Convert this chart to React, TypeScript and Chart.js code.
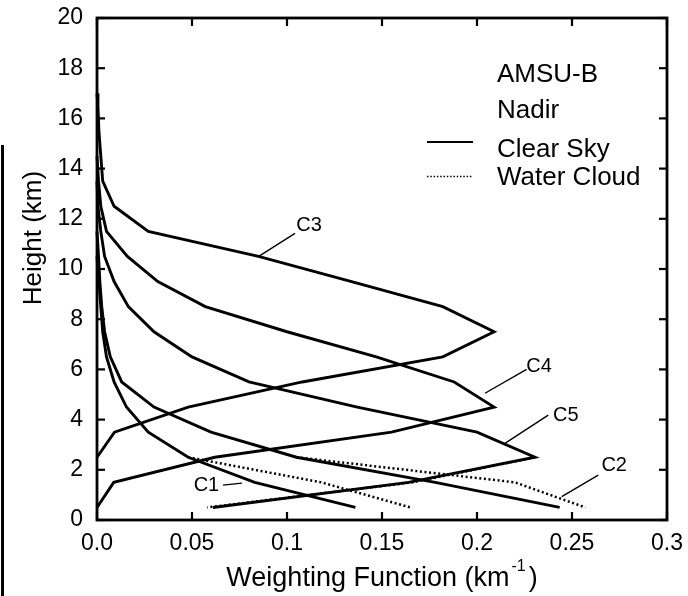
import React, { useEffect, useRef } from "react";
import { Chart, registerables } from "chart.js";

Chart.register(...registerables);

// ---------- axis ----------
const xTickValues = [0, 0.05, 0.1, 0.15, 0.2, 0.25, 0.3];
const xTickLabels = ["0.0", "0.05", "0.1", "0.15", "0.2", "0.25", "0.3"];
const yTickValues = [0, 2, 4, 6, 8, 10, 12, 14, 16, 18, 20];
const yTickLabels = ["0", "2", "4", "6", "8", "10", "12", "14", "16", "18", "20"];

// ---------- clear sky (solid) ----------
const c1ClearHeight = [10.5, 9.5, 8.5, 7.5, 6.5, 5.5, 4.5, 3.5, 2.5, 1.5, 0.5];
const c1ClearWeight = [0, 0.001, 0.002, 0.003, 0.005, 0.009, 0.0155, 0.027, 0.048, 0.083, 0.136];

const c2ClearHeight = [11.5, 10.5, 9.5, 8.5, 7.5, 6.5, 5.5, 4.5, 3.5, 2.5, 1.5, 0.5];
const c2ClearWeight = [0, 0.0008, 0.0015, 0.0025, 0.004, 0.007, 0.013, 0.03, 0.06, 0.105, 0.178, 0.2435];

const c3ClearHeight = [17, 16.5, 15.5, 14.5, 13.5, 12.5, 11.5, 10.5, 9.5, 8.5, 7.5, 6.5, 5.5, 4.5, 3.5, 2.5];
const c3ClearWeight = [0, 0.0005, 0.001, 0.002, 0.003, 0.009, 0.027, 0.085, 0.134, 0.182, 0.209, 0.182, 0.108, 0.048, 0.0092, 0];

const c4ClearHeight = [14.5, 13.5, 12.5, 11.5, 10.5, 9.5, 8.5, 7.5, 6.5, 5.5, 4.5, 3.5, 2.5, 1.5, 0.5];
const c4ClearWeight = [0, 0.0008, 0.002, 0.005, 0.016, 0.032, 0.057, 0.1, 0.147, 0.188, 0.209, 0.155, 0.062, 0.0088, 0];

const c5ClearHeight = [13.5, 12.5, 11.5, 10.5, 9.5, 8.5, 7.5, 6.5, 5.5, 4.5, 3.5, 2.5, 1.5, 0.5];
const c5ClearWeight = [0, 0.0005, 0.002, 0.004, 0.009, 0.0165, 0.03, 0.05, 0.08, 0.137, 0.2, 0.2305, 0.164, 0.061];

// ---------- water cloud (dotted) ----------
const c1CloudHeight = [2.5, 1.5, 0.5];
const c1CloudWeight = [0.048, 0.118, 0.165];

const c2CloudHeight = [2.5, 1.5, 0.5];
const c2CloudWeight = [0.105, 0.22, 0.257];

const c5CloudHeight = [2.5, 1.5, 0.5];
const c5CloudWeight = [0.2305, 0.166, 0.058];

// ---------- channel labels ----------
const channelNames = ["C1", "C2", "C3", "C4", "C5"];
const channelLabelX = [0.0576, 0.2722, 0.1116, 0.2327, 0.2467];
const channelLabelY = [1.39, 2.16, 11.75, 6.13, 4.15];
const pointerStartX = [0.0663, 0.2446, 0.0849, 0.2042, 0.2147];
const pointerStartY = [1.39, 0.93, 10.49, 5.05, 3.05];
const pointerEndX = [0.0763, 0.2638, 0.1042, 0.2261, 0.2375];
const pointerEndY = [1.47, 1.79, 11.42, 6.0, 4.18];

// ---------- legend ----------
const legendHeader = ["AMSU-B", "Nadir"];
const legendItems = ["Clear Sky", "Water Cloud"];

const xTitle = "Weighting Function (km";
const xTitleSup = "-1";
const yTitle = "Height (km)";

const FONT = "'Liberation Sans', Arial, sans-serif";

function series(w: number[], h: number[], dotted: boolean) {
  return {
    data: w.map((x, i) => ({ x, y: h[i] })),
    borderColor: "#000",
    backgroundColor: "#000",
    borderWidth: dotted ? 2.5 : 2.9,
    borderDash: dotted ? [2, 2.6] : [],
    borderJoinStyle: "miter" as const,
    showLine: true,
    pointRadius: 0,
    pointHoverRadius: 0,
    fill: false,
    tension: 0,
    clip: false as const,
  };
}

const decorPlugin = {
  id: "decor",
  afterDatasetsDraw(chart: any) {
    const { ctx, chartArea: a, scales } = chart;
    const xs = scales.x;
    const ys = scales.y;
    ctx.save();
    ctx.strokeStyle = "#000";
    ctx.fillStyle = "#000";

    const seg = (x1: number, y1: number, x2: number, y2: number) => {
      ctx.beginPath();
      ctx.moveTo(x1, y1);
      ctx.lineTo(x2, y2);
      ctx.stroke();
    };

    // frame
    ctx.lineWidth = 2.8;
    ctx.strokeRect(a.left, a.top, a.right - a.left, a.bottom - a.top);

    // inward ticks
    ctx.lineWidth = 2.2;
    const TL = 8;
    xTickValues.forEach((v) => {
      const px = xs.getPixelForValue(v);
      seg(px, a.bottom, px, a.bottom - TL);
      seg(px, a.top, px, a.top + TL);
    });
    yTickValues.forEach((v) => {
      const py = ys.getPixelForValue(v);
      seg(a.left, py, a.left + TL, py);
      seg(a.right, py, a.right - TL, py);
    });

    // channel labels + pointers
    ctx.lineWidth = 1.4;
    ctx.font = `20px ${FONT}`;
    ctx.textAlign = "center";
    ctx.textBaseline = "middle";
    channelNames.forEach((name, i) => {
      seg(
        xs.getPixelForValue(pointerStartX[i]),
        ys.getPixelForValue(pointerStartY[i]),
        xs.getPixelForValue(pointerEndX[i]),
        ys.getPixelForValue(pointerEndY[i])
      );
      ctx.fillText(name, xs.getPixelForValue(channelLabelX[i]), ys.getPixelForValue(channelLabelY[i]));
    });

    // legend
    const lx = a.right - 170;
    ctx.font = `26px ${FONT}`;
    ctx.textAlign = "left";
    ctx.textBaseline = "alphabetic";
    ctx.fillText(legendHeader[0], lx, a.top + 64);
    ctx.fillText(legendHeader[1], lx, a.top + 100);
    ctx.fillText(legendItems[0], lx, a.top + 139);
    ctx.fillText(legendItems[1], lx, a.top + 167);
    ctx.lineWidth = 2.2;
    seg(lx - 70, a.top + 124, lx - 24, a.top + 124);
    ctx.lineWidth = 1.6;
    ctx.setLineDash([1.5, 1.8]);
    seg(lx - 70, a.top + 158.5, lx - 24, a.top + 158.5);
    ctx.setLineDash([]);

    // x title with superscript
    const cx = (a.left + a.right) / 2;
    ctx.font = `27px ${FONT}`;
    const mainW = ctx.measureText(xTitle).width;
    ctx.font = `16px ${FONT}`;
    const supW = ctx.measureText(xTitleSup).width;
    ctx.font = `27px ${FONT}`;
    const closeW = ctx.measureText(")").width;
    const total = mainW + supW + closeW + 5;
    let tx = cx - total / 2;
    const by = 586;
    ctx.fillText(xTitle, tx, by);
    tx += mainW + 2;
    ctx.font = `16px ${FONT}`;
    ctx.fillText(xTitleSup, tx, by - 15);
    tx += supW + 3;
    ctx.font = `27px ${FONT}`;
    ctx.fillText(")", tx, by);

    // y title
    ctx.save();
    ctx.translate(41, 238);
    ctx.rotate(-Math.PI / 2);
    ctx.font = `26px ${FONT}`;
    ctx.textAlign = "center";
    ctx.textBaseline = "alphabetic";
    ctx.fillText(yTitle, 0, 0);
    ctx.restore();

    ctx.restore();
  },
};

export default function App() {
  const ref = useRef<HTMLCanvasElement | null>(null);

  useEffect(() => {
    if (!ref.current) return;
    const chart = new Chart(ref.current, {
      type: "scatter",
      data: {
        datasets: [
          series(c1ClearWeight, c1ClearHeight, false),
          series(c2ClearWeight, c2ClearHeight, false),
          series(c3ClearWeight, c3ClearHeight, false),
          series(c4ClearWeight, c4ClearHeight, false),
          series(c5ClearWeight, c5ClearHeight, false),
          series(c1CloudWeight, c1CloudHeight, true),
          series(c2CloudWeight, c2CloudHeight, true),
          series(c5CloudWeight, c5CloudHeight, true),
        ] as any,
      },
      options: {
        responsive: false,
        animation: false,
        devicePixelRatio: 1,
        layout: { padding: { left: 0, top: 18, right: 21, bottom: 0 } },
        plugins: {
          legend: { display: false },
          tooltip: { enabled: false },
          title: { display: false },
        },
        scales: {
          x: {
            type: "linear",
            min: 0,
            max: 0.3,
            afterBuildTicks: (s: any) => {
              s.ticks = xTickValues.map((value) => ({ value }));
            },
            afterFit: (s: any) => {
              s.height = 76;
              s.paddingLeft = 0;
              s.paddingRight = 0;
            },
            ticks: {
              autoSkip: false,
              maxRotation: 0,
              padding: 10,
              color: "#000",
              font: { family: FONT, size: 23 },
              callback: (_v: any, i: number) => xTickLabels[i],
            },
            grid: { display: false, drawTicks: false },
            border: { display: false },
          },
          y: {
            type: "linear",
            min: 0,
            max: 20,
            afterBuildTicks: (s: any) => {
              s.ticks = yTickValues.map((value) => ({ value }));
            },
            afterFit: (s: any) => {
              s.width = 97;
              s.paddingTop = 0;
              s.paddingBottom = 0;
            },
            ticks: {
              autoSkip: false,
              padding: 14,
              color: "#000",
              font: { family: FONT, size: 23 },
              callback: (_v: any, i: number) => yTickLabels[i],
            },
            grid: { display: false, drawTicks: false },
            border: { display: false },
          },
        },
      },
      plugins: [decorPlugin],
    });
    return () => chart.destroy();
  }, []);

  return (
    <div style={{ position: "absolute", left: 0, top: 0, width: 688, height: 596, background: "#fff" }}>
      <canvas ref={ref} width={688} height={596} style={{ display: "block" }} />
      <div style={{ position: "absolute", left: 1, top: 145, width: 3, height: 451, background: "#000" }} />
    </div>
  );
}
